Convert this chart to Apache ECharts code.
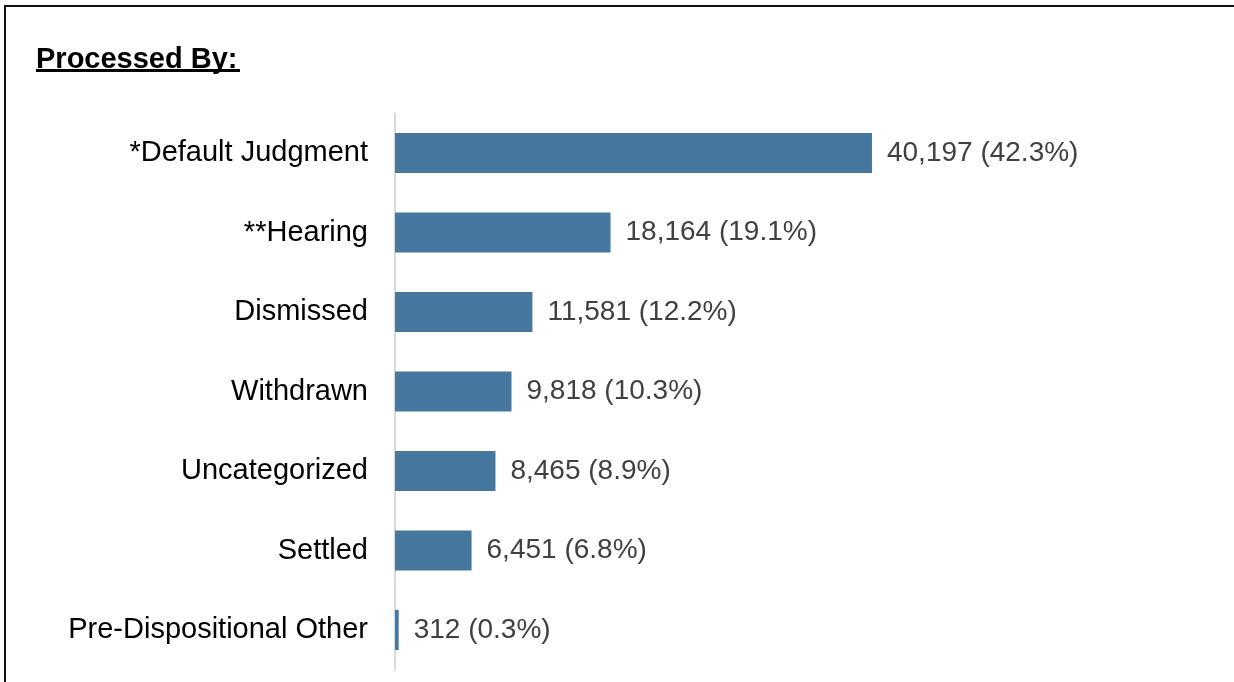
<!DOCTYPE html>
<html>
<head>
<meta charset="utf-8">
<script src="https://cdn.jsdelivr.net/npm/echarts@6/dist/echarts.min.js"></script>
<style>
  html, body { margin: 0; padding: 0; background: #ffffff; }
  #chart { width: 1234px; height: 682px; }
</style>
</head>
<body>
<div id="chart"></div>
<script>
// Disposition categories, counts and their shares of the total
const categories = [
  '*Default Judgment',
  '**Hearing',
  'Dismissed',
  'Withdrawn',
  'Uncategorized',
  'Settled',
  'Pre-Dispositional Other'
];
const counts = [40197, 18164, 11581, 9818, 8465, 6451, 312];
const shares = [42.3, 19.1, 12.2, 10.3, 8.9, 6.8, 0.3];
const titleText = 'Processed By:';

const FONT = '"Liberation Sans", Arial, sans-serif';

function withCommas(n) {
  return String(n).replace(/\B(?=(\d{3})+(?!\d))/g, ',');
}

const chart = echarts.init(document.getElementById('chart'), null, { renderer: 'canvas' });

chart.setOption({
  animation: false,
  backgroundColor: '#ffffff',
  graphic: [
    // frame lines along the top and left edges
    { type: 'rect', shape: { x: 4, y: 5, width: 1230, height: 2 }, style: { fill: '#111111' } },
    { type: 'rect', shape: { x: 4, y: 5, width: 2, height: 677 }, style: { fill: '#111111' } },
    // heading with its underline
    {
      type: 'text', left: 36, top: 45,
      style: { text: titleText, font: 'bold 29px ' + FONT, fill: '#000000' }
    },
    { type: 'rect', shape: { x: 36, y: 69, width: 204, height: 3 }, style: { fill: '#000000' } }
  ],
  grid: { left: 395, right: 245.7, top: 113.25, bottom: 12.25, containLabel: false },
  xAxis: {
    type: 'value',
    min: 0,
    max: 50000,
    show: false
  },
  yAxis: {
    type: 'category',
    inverse: true,
    data: categories,
    axisLine: { show: true, lineStyle: { color: '#d9d9d9', width: 2 } },
    axisTick: { show: false },
    splitLine: { show: false },
    axisLabel: {
      color: '#000000', fontFamily: FONT, fontSize: 29, margin: 27,
      padding: [4, 0, 0, 0]
    }
  },
  series: [{
    type: 'bar',
    data: counts,
    barWidth: 40,
    itemStyle: { color: '#45779f' },
    label: {
      show: true,
      position: 'right',
      distance: 15,
      color: '#404040',
      fontFamily: FONT,
      fontSize: 28,
      padding: [4, 0, 0, 0],
      formatter: p => withCommas(counts[p.dataIndex]) + ' (' + shares[p.dataIndex].toFixed(1) + '%)'
    }
  }]
});
</script>
</body>
</html>
